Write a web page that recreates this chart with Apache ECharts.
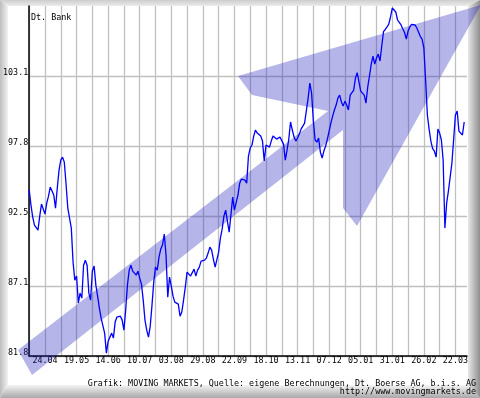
<!DOCTYPE html>
<html>
<head>
<meta charset="utf-8">
<script src="https://cdn.jsdelivr.net/npm/echarts@6/dist/echarts.min.js"></script>
<style>
html, body { margin: 0; padding: 0; background: #fff; }
#main { width: 480px; height: 398px; }
</style>
</head>
<body>
<div id="main"></div>
<script>
const chartTitle = "Dt. Bank";
const sourceText = "Grafik: MOVING MARKETS, Quelle: eigene Berechnungen, Dt. Boerse AG, b.i.s. AG";
const urlText = "http://www.movingmarkets.de";

// one label every second gridline (gridline = 9 trading days)
const xTickLabels = ["24.04", "19.05", "14.06", "10.07", "03.08", "29.08", "22.09",
	"18.10", "13.11", "07.12", "05.01", "31.01", "26.02", "22.03"];
const yTickLabels = ["81.8", "87.1", "92.5", "97.8", "103.1"];
const yBase = 81.8;
const yStep = 5.325;
const xStep = 9;
const xDays = 249.6;

// daily closes
const prices = [
	94.42, 93.28, 92.37, 91.76, 91.68, 91.38, 92.44, 93.36, 93.51, 92.59,
	93.43, 93.96, 94.65, 94.80, 94.04, 93.05, 94.57, 95.94, 96.70, 96.93,
	96.55, 94.88, 93.05, 92.29, 91.53, 88.94, 87.57, 87.88, 85.82, 86.58,
	86.20, 88.71, 89.09, 88.71, 86.58, 86.05, 88.26, 88.64, 87.19, 86.35,
	85.44, 84.68, 84.53, 83.54, 82.02, 82.93, 82.78, 83.54, 83.16, 84.38,
	84.76, 84.91, 84.83, 84.53, 83.77, 85.29, 87.19, 88.33, 88.71, 88.26,
	88.18, 87.95, 88.26, 87.72, 87.27, 86.05, 84.53, 83.77, 83.23, 84.07,
	85.67, 87.42, 88.56, 88.33, 89.32, 89.93, 90.24, 91.07, 89.47, 86.28,
	87.80, 87.12, 86.35, 85.90, 85.97, 85.75, 84.83, 85.14, 86.05, 87.04,
	88.18, 88.33, 87.88, 88.03, 88.41, 87.88, 88.33, 88.56, 89.02, 89.02,
	89.09, 89.25, 89.63, 90.08, 89.85, 89.17, 88.56, 88.56, 89.70, 90.77,
	91.45, 92.44, 92.90, 92.06, 91.22, 92.52, 93.89, 92.90, 93.05, 94.04,
	94.95, 95.26, 95.18, 95.18, 94.95, 97.01, 97.62, 97.85, 98.53, 98.99,
	98.76, 98.68, 98.53, 98.15, 96.63, 97.85, 97.77, 97.69, 98.15, 98.53,
	98.45, 98.30, 98.45, 98.45, 98.53, 97.92, 96.70, 97.46, 98.30, 99.60,
	98.99, 98.45, 98.15, 98.38, 98.68, 99.06, 99.29, 99.52, 99.60, 101.40,
	102.56, 101.80, 99.67, 98.23, 98.07, 98.38, 97.31, 96.86, 97.39, 97.77,
	98.30, 98.91, 99.52, 100.05, 100.51, 100.89, 101.42, 101.65, 101.12, 100.81,
	101.19, 100.89, 100.51, 101.65, 101.73, 102.03, 102.94, 103.35, 103.25, 101.95,
	101.95, 101.65, 101.04, 102.26, 103.10, 104.01, 104.62, 104.01, 104.47, 104.77,
	104.24, 105.38, 106.48, 106.64, 106.83, 107.05, 107.59, 108.27, 108.42, 107.97,
	107.36, 107.17, 106.98, 106.67, 106.41, 105.91, 106.52, 106.83, 107.02, 106.98,
	106.98, 106.75, 106.60, 106.10, 105.91, 105.23, 102.79, 100.13, 99.06, 98.15,
	97.58, 97.39, 96.93, 99.06, 98.76, 98.23, 96.70, 91.53, 93.43, 94.34,
	95.41, 96.48, 98.30, 100.13, 100.43, 98.91, 98.99, 98.61, 99.60
];

const font = '"DejaVu Sans Mono", monospace';
const fontSize = 8.4;

// y axis runs from the first tick label, so the series is drawn relative to it
const lineData = prices.map((p, i) => [i, p - yBase]);

function bevel(points, x2, y2, c1, c2) {
	return {
		type: "polygon",
		z: 0,
		silent: true,
		shape: { points: points },
		style: { fill: new echarts.graphic.LinearGradient(0, 0, x2, y2, [
			{ offset: 0, color: c1 }, { offset: 1, color: c2 }]) }
	};
}

var myChart = echarts.init(document.getElementById("main"));

var option = {
	animation: false,
	backgroundColor: "#ffffff",
	grid: { left: 26, right: 13, top: 6, bottom: 42, containLabel: false },
	xAxis: {
		type: "value",
		min: 0,
		max: xDays,
		interval: xStep,
		z: 2,
		axisLine: { onZero: false, lineStyle: { color: "#000", width: 1.5 } },
		axisTick: { show: false },
		splitLine: { show: true, showMaxLine: false, lineStyle: { color: "#c0c0c0", width: 1.3 } },
		axisLabel: {
			margin: 1,
			lineHeight: 8,
			fontFamily: font,
			fontSize: fontSize,
			color: "#000",
			showMaxLabel: false,
			formatter: function (v) {
				var i = Math.round(v / xStep);
				if (i % 2 === 1 && xTickLabels[(i - 1) / 2]) {
					return xTickLabels[(i - 1) / 2];
				}
				return "";
			}
		}
	},
	yAxis: {
		type: "value",
		min: 0,
		max: yStep * 5,
		interval: yStep,
		z: 2,
		axisLine: { show: true, lineStyle: { color: "#000", width: 1.5 } },
		axisTick: { show: false },
		splitLine: { show: true, showMaxLine: false, lineStyle: { color: "#c0c0c0", width: 1.3 } },
		axisLabel: {
			margin: 1,
			verticalAlign: "bottom",
			lineHeight: 6,
			fontFamily: font,
			fontSize: fontSize,
			color: "#000",
			showMaxLabel: false,
			formatter: function (v) {
				return yTickLabels[Math.round(v / yStep)] || "";
			}
		}
	},
	graphic: [
		bevel([[0, 0], [480, 0], [468, 6], [8, 6]], 0, 1, "#cdcdcd", "#ececec"),
		bevel([[0, 0], [8, 6], [8, 385], [0, 398]], 1, 0, "#bdbdbd", "#f2f2f2"),
		bevel([[480, 0], [480, 398], [468, 385], [468, 6]], 1, 0, "#e8e8e8", "#8e8e8e"),
		bevel([[0, 398], [8, 385], [468, 385], [480, 398]], 0, 1, "#f4f4f4", "#a8a8a8"),
		{
			type: "polygon",
			z: 5,
			silent: true,
			shape: { points: [[18, 350], [328, 111], [252, 95], [238, 76], [481, 5],
				[357, 226], [343, 208], [343, 130], [32, 375]] },
			style: { fill: "rgba(30,30,190,0.33)" }
		},
		{
			type: "text",
			z: 20,
			style: { text: chartTitle, x: 31, y: 18, verticalAlign: "middle",
				font: fontSize + "px " + font, fill: "#000" }
		},
		{
			type: "text",
			z: 20,
			style: { text: sourceText, x: 476, y: 383.5, align: "right", verticalAlign: "middle",
				font: fontSize + "px " + font, fill: "#000" }
		},
		{
			type: "text",
			z: 20,
			style: { text: urlText, x: 476, y: 392, align: "right", verticalAlign: "middle",
				font: fontSize + "px " + font, fill: "#000" }
		}
	],
	series: [
		{
			type: "line",
			z: 10,
			data: lineData,
			showSymbol: false,
			lineStyle: { color: "#0000ff", width: 1.3 }
		}
	]
};

myChart.setOption(option);
</script>
</body>
</html>
